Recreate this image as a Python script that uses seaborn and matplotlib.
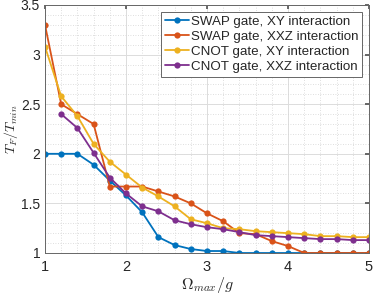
import matplotlib
matplotlib.use("Agg")
import matplotlib.pyplot as plt
import numpy as np
import pandas as pd
import seaborn as sns
from matplotlib.ticker import MultipleLocator

sns.set_theme(style="white")
plt.rcParams['font.family'] = ['Liberation Sans', 'DejaVu Sans']
plt.rcParams['mathtext.fontset'] = 'cm'

omega = [1.0, 1.2, 1.4, 1.6, 1.8, 2.0, 2.2, 2.4, 2.6, 2.8, 3.0,
         3.2, 3.4, 3.6, 3.8, 4.0, 4.2, 4.4, 4.6, 4.8, 5.0]

swap_xy = [2.0, 2.0, 2.0, 1.89, 1.73, 1.58, 1.41, 1.16, 1.08, 1.04, 1.02,
           1.02, 1.0, 1.0, 1.0, 1.0, 1.0, 1.0, 1.0, 1.0, 1.0]
swap_xxz = [3.3, 2.5, 2.4, 2.3, 1.67, 1.67, 1.67, 1.62, 1.57, 1.50, 1.40,
            1.32, 1.20, 1.19, 1.12, 1.07, 1.0, 1.0, 1.0, 1.0, 1.0]
cnot_xy = [3.08, 2.58, 2.38, 2.10, 1.92, 1.79, 1.66, 1.57, 1.47, 1.34, 1.30,
           1.25, 1.24, 1.22, 1.21, 1.20, 1.19, 1.17, 1.17, 1.16, 1.16]
cnot_xxz = [np.nan, 2.40, 2.26, 2.01, 1.76, 1.60, 1.47, 1.42, 1.33, 1.29, 1.26,
            1.24, 1.21, 1.18, 1.17, 1.16, 1.15, 1.14, 1.14, 1.13, 1.13]

labels = ['SWAP gate, XY interaction', 'SWAP gate, XXZ interaction',
          'CNOT gate, XY interaction', 'CNOT gate, XXZ interaction']
colors = ['#0072BD', '#D95319', '#EDB120', '#7E2F8E']

series = [swap_xy, swap_xxz, cnot_xy, cnot_xxz]

fig = plt.figure(figsize=(3.74, 2.94), dpi=100)
ax = fig.add_axes([45 / 374, 1 - 253 / 294, 324 / 374, 248 / 294])

for vals, lab, col in zip(series, labels, colors):
    df = pd.DataFrame({'omega': omega, 'ratio': vals}).dropna()
    sns.lineplot(data=df, x='omega', y='ratio', ax=ax, color=col, label=lab,
                 marker='o', markersize=4.5, markeredgewidth=0, linewidth=1.3)

ax.set_xlim(1, 5)
ax.set_ylim(1, 3.5)
ax.xaxis.set_major_locator(MultipleLocator(1))
ax.xaxis.set_minor_locator(MultipleLocator(0.2))
ax.yaxis.set_minor_locator(MultipleLocator(0.1))
ax.set_yticks([1, 1.5, 2, 2.5, 3, 3.5])
ax.set_yticklabels(['1', '1.5', '2', '2.5', '3', '3.5'])

ax.grid(True, which='major', color='#dcdcdc', linewidth=0.7, linestyle='-')
ax.grid(True, which='minor', color='#d4d4d4', linewidth=0.6, linestyle=(0, (1, 2)))
ax.set_axisbelow(True)

ax.tick_params(axis='both', which='major', direction='in', length=3,
               labelsize=10.5, top=True, right=True, color='#555555',
               labelcolor='#262626', pad=5)
ax.tick_params(axis='y', which='major', labelsize=10, pad=3.5)
ax.tick_params(axis='both', which='minor', length=0)
for sp in ax.spines.values():
    sp.set_color('#666666')
    sp.set_linewidth(0.7)

ax.set_xlabel(r'$\Omega_{max}/g$', fontsize=11.5, color='#262626', labelpad=1)
ax.set_ylabel(r'$T_F/T_{min}$', fontsize=10, color='#262626')
ax.yaxis.set_label_coords(-0.078, 0.5)

leg = ax.legend(loc='upper right', fontsize=9.6, frameon=True, fancybox=False,
                handlelength=1.8, handletextpad=0.15, labelspacing=0.2,
                borderpad=0.3, borderaxespad=0.5, framealpha=1)
leg.get_frame().set_edgecolor('#666666')
leg.get_frame().set_linewidth(0.7)

fig.savefig('out.png', dpi=100)
